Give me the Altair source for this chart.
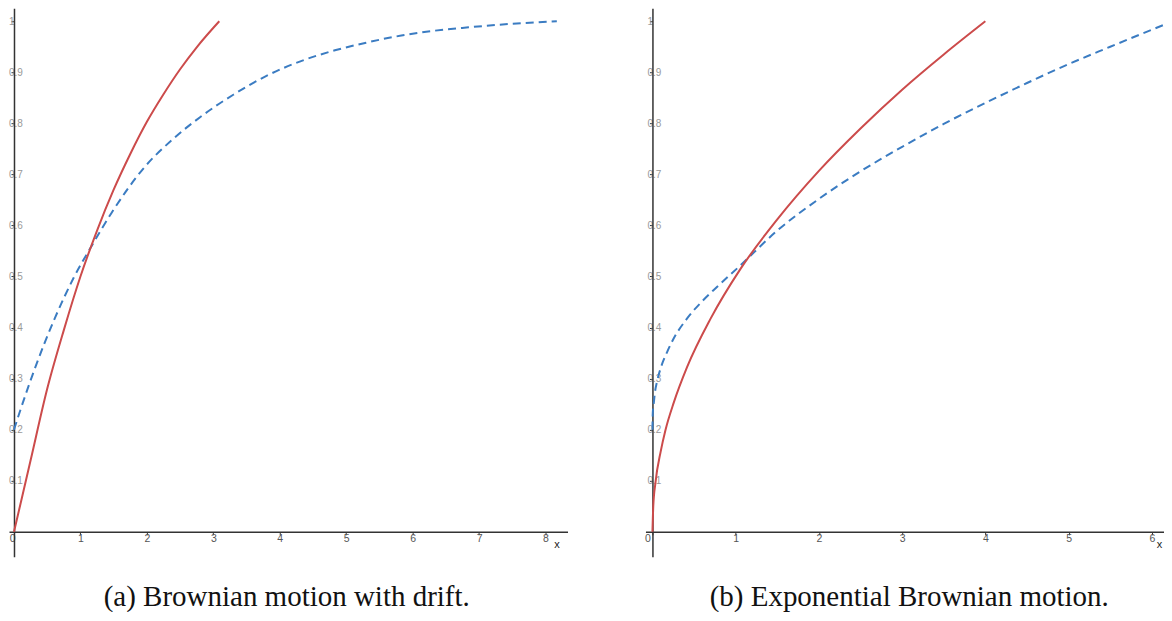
import altair as alt
import pandas as pd

# ---- data ----
# (a) Brownian motion with drift
a_red_x = [0, 0.25, 0.5, 0.75, 1.0, 1.25, 1.5, 1.75, 2.0, 2.25, 2.5, 2.75, 3.09]
a_red_y = [0, 0.14, 0.28, 0.395, 0.50, 0.59, 0.67, 0.74, 0.803, 0.857, 0.906, 0.949, 1.0]
a_blue_x = [0, 0.1, 0.32, 0.62, 0.9, 1.16, 1.47, 1.97, 2.4, 2.8, 3.3, 3.8, 4.3, 4.83, 5.3, 5.83, 6.3, 6.84, 7.5, 8.17]
a_blue_y = [0.2, 0.24, 0.322, 0.42, 0.498, 0.558, 0.625, 0.715, 0.77, 0.812, 0.856, 0.893, 0.921, 0.943, 0.958, 0.972, 0.981, 0.988, 0.995, 1.0]

# (b) Exponential Brownian motion
b_red_x = [0, 0.01, 0.036, 0.1, 0.156, 0.256, 0.417, 0.697, 1.058, 1.5, 2.0, 2.5, 3.0, 3.5, 4.0]
b_red_y = [0, 0.05, 0.096, 0.158, 0.199, 0.253, 0.323, 0.417, 0.515, 0.612, 0.707, 0.79, 0.866, 0.935, 1.0]
b_blue_x = [0, 0.004, 0.016, 0.03, 0.056, 0.1, 0.176, 0.25, 0.417, 0.6, 0.778, 1.058, 1.5, 2.0, 2.5, 3.0, 3.5, 4.0, 4.5, 5.0, 5.5, 6.25]
b_blue_y = [0.2, 0.232, 0.252, 0.273, 0.295, 0.321, 0.352, 0.377, 0.418, 0.452, 0.48, 0.522, 0.59, 0.652, 0.706, 0.754, 0.799, 0.84, 0.879, 0.916, 0.95, 1.0]

a_xticks = [0, 1, 2, 3, 4, 5, 6, 7, 8]
b_xticks = [0, 1, 2, 3, 4, 5, 6]
yticks = [0.1, 0.2, 0.3, 0.4, 0.5, 0.6, 0.7, 0.8, 0.9, 1.0]

captions = ["(a) Brownian motion with drift.", "(b) Exponential Brownian motion."]

RED = "#cc4b4b"
BLUE = "#3b7cc2"

Y_DOMAIN = [-0.0489, 1.0254]
H = 549


def panel(rx, ry, bx, by, xdom, xticks, width, yoff, zero_off, title_x, cap_dx, caption):
    red = pd.DataFrame({"x": rx, "y": ry})
    blue = pd.DataFrame({"x": bx, "y": by})
    xs = alt.Scale(domain=xdom, nice=False, zero=False)
    ys = alt.Scale(domain=Y_DOMAIN, nice=False, zero=False)
    xaxis = alt.Axis(
        values=xticks, offset=-25, grid=False, title="x", format="~g",
        titleX=title_x, titleY=13, titleAlign="center", titleBaseline="middle",
        titleFont="Liberation Sans", titleFontSize=11, titleFontWeight="normal", titleColor="#222",
        domainColor="#333", domainWidth=1.5, tickColor="#333", tickSize=3,
        labelFont="Liberation Sans", labelFontSize=10.5, labelColor="#555",
        labelPadding=-1, labelFlush=False,
        labelAlign={"condition": {"test": "datum.value === 0", "value": "right"}, "value": "center"},
        labelOffset={"condition": {"test": "datum.value === 0", "value": zero_off}, "value": 0},
    )
    yaxis = alt.Axis(
        values=yticks, offset=yoff, grid=False, title=None, format="~g",
        domainColor="#333", domainWidth=1.5, tickColor="#333", tickSize=3,
        labelFont="Liberation Sans", labelFontSize=10, labelColor="#999999",
        labelAlign="left", labelPadding=2.5, labelFlush=False,
    )
    l_red = alt.Chart(red).mark_line(color=RED, strokeWidth=2, interpolate="monotone", clip=True).encode(
        x=alt.X("x:Q", scale=xs, axis=xaxis),
        y=alt.Y("y:Q", scale=ys, axis=yaxis),
    )
    l_blue = alt.Chart(blue).mark_line(color=BLUE, strokeWidth=2, strokeDash=[8, 5],
                                       interpolate="monotone", clip=True).encode(
        x=alt.X("x:Q", scale=xs),
        y=alt.Y("y:Q", scale=ys),
    )
    return alt.layer(l_blue, l_red).properties(
        width=width, height=H,
        title=alt.TitleParams(caption, orient="bottom", anchor="middle", offset=26, dx=cap_dx,
                              font="Liberation Serif", fontSize=29, fontWeight="normal", color="#111"),
    )


left = panel(a_red_x, a_red_y, a_blue_x, a_blue_y, [-0.0752, 8.331], a_xticks, 559, -5, 1, 548, -1.5, captions[0])
right = panel(b_red_x, b_red_y, b_blue_x, b_blue_y, [-0.084, 6.146], b_xticks, 519, -7, -2, 514, 4.5, captions[1])

chart = alt.hconcat(left, right, spacing=78, bounds="flush").properties(padding=0).configure_view(stroke=None)

chart.save("out.html", embed_options={"renderer": "svg", "actions": False})
